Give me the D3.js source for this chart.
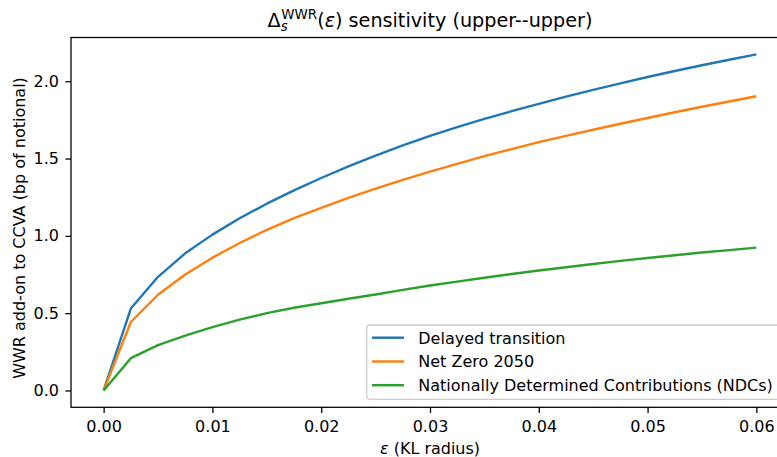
<!DOCTYPE html>
<html>
<head>
<meta charset="utf-8">
<script src="https://cdn.jsdelivr.net/npm/d3@7"></script>
<style>
  body { margin: 0; background: #fff; }
  svg { display: block; font-family: "DejaVu Sans", sans-serif; }
</style>
</head>
<body>
<div id="chart"></div>
<script>
// KL radius grid
var epsValues = [0, 0.0025, 0.005, 0.0075, 0.01, 0.0125, 0.015, 0.0175, 0.02, 0.0225, 0.025, 0.0275, 0.03,
                 0.0325, 0.035, 0.0375, 0.04, 0.0425, 0.045, 0.0475, 0.05, 0.0525, 0.055, 0.0575, 0.06];

var seriesNames = ["Delayed transition", "Net Zero 2050", "Nationally Determined Contributions (NDCs)"];

var delayedTransition = [0, 0.530, 0.735, 0.887, 1.008, 1.114, 1.208, 1.294, 1.374, 1.449, 1.519, 1.585, 1.647,
                         1.703, 1.756, 1.806, 1.854, 1.900, 1.944, 1.986, 2.027, 2.066, 2.103, 2.139, 2.174];
var netZero2050 = [0, 0.443, 0.619, 0.750, 0.859, 0.954, 1.039, 1.115, 1.181, 1.245, 1.305, 1.362, 1.415,
                   1.466, 1.515, 1.561, 1.606, 1.647, 1.686, 1.725, 1.762, 1.799, 1.835, 1.869, 1.903];
var ndcs = [0, 0.209, 0.293, 0.355, 0.410, 0.458, 0.500, 0.535, 0.564, 0.593, 0.621, 0.651, 0.679,
            0.704, 0.729, 0.753, 0.776, 0.797, 0.818, 0.838, 0.857, 0.875, 0.892, 0.908, 0.924];

var xTicks = [0, 0.01, 0.02, 0.03, 0.04, 0.05, 0.06];
var yTicks = [0, 0.5, 1.0, 1.5, 2.0];

var colors = ["#1f77b4", "#ff7f0e", "#2ca02c"];

var width = 777, height = 457;
var box = { left: 71, top: 37.5, right: 789, bottom: 407.3 };
var fontSize = 16, titleSize = 19.2;

var svg = d3.select("#chart").append("svg")
    .attr("width", width)
    .attr("height", height);

var series = [delayedTransition, netZero2050, ndcs].map(function(vals, i) {
    return { name: seriesNames[i], color: colors[i], values: vals };
});

// matplotlib-like 5% margins
var xExt = d3.extent(epsValues), yExt = d3.extent(delayedTransition.concat(netZero2050, ndcs));
var xPad = (xExt[1] - xExt[0]) * 0.05, yPad = (yExt[1] - yExt[0]) * 0.05;

var x = d3.scaleLinear().domain([xExt[0] - xPad, xExt[1] + xPad]).range([box.left, box.right]);
var y = d3.scaleLinear().domain([yExt[0] - yPad, yExt[1] + yPad]).range([box.bottom, box.top]);

// axes
var xAxis = svg.append("g")
    .attr("transform", "translate(0," + box.bottom + ")")
    .call(d3.axisBottom(x).tickValues(xTicks).tickFormat(d3.format(".2f"))
        .tickSize(5.6).tickPadding(8).tickSizeOuter(0));
var yAxis = svg.append("g")
    .attr("transform", "translate(" + box.left + ",0)")
    .call(d3.axisLeft(y).tickValues(yTicks).tickFormat(d3.format(".1f"))
        .tickSize(5.6).tickPadding(6.4).tickSizeOuter(0));

[xAxis, yAxis].forEach(function(g) {
    g.select(".domain").remove();
    g.selectAll(".tick line").attr("stroke", "#000").attr("stroke-width", 1.28);
    g.selectAll(".tick text").attr("fill", "#000")
        .style("font-size", fontSize + "px")
        .style("font-family", "DejaVu Sans, sans-serif");
});

// lines
var line = d3.line()
    .x(function(d, i) { return x(epsValues[i]); })
    .y(function(d) { return y(d); });

svg.append("g").selectAll("path")
    .data(series)
    .enter().append("path")
    .attr("d", function(s) { return line(s.values); })
    .attr("fill", "none")
    .attr("stroke", function(s) { return s.color; })
    .attr("stroke-width", 2.4)
    .attr("stroke-linejoin", "round")
    .attr("stroke-linecap", "butt");

// spines
svg.append("rect")
    .attr("x", box.left).attr("y", box.top)
    .attr("width", box.right - box.left).attr("height", box.bottom - box.top)
    .attr("fill", "none").attr("stroke", "#000").attr("stroke-width", 1.28);

// legend (lower right)
var legend = svg.append("g");
legend.append("rect")
    .attr("x", 366.7).attr("y", 325)
    .attr("width", 781 - 366.7).attr("height", 399.3 - 325)
    .attr("rx", 3.2).attr("ry", 3.2)
    .attr("fill", "#fff").attr("fill-opacity", 0.8)
    .attr("stroke", "#cccccc").attr("stroke-width", 1.28);

var rowY = [337.7, 361.5, 385.2];
var rows = legend.selectAll("g.row")
    .data(series)
    .enter().append("g").attr("class", "row");
rows.append("line")
    .attr("x1", 372).attr("x2", 404)
    .attr("y1", function(d, i) { return rowY[i]; })
    .attr("y2", function(d, i) { return rowY[i]; })
    .attr("stroke", function(d) { return d.color; })
    .attr("stroke-width", 2.4);
rows.append("text")
    .attr("x", 418.3)
    .attr("y", function(d, i) { return rowY[i] + 5.8; })
    .style("font-size", fontSize + "px")
    .text(function(d) { return d.name; });

// axis labels
var xl = svg.append("text")
    .attr("x", (box.left + box.right) / 2).attr("y", 454)
    .attr("text-anchor", "middle")
    .style("font-size", fontSize + "px");
xl.append("tspan").style("font-style", "italic").text("ε");
xl.append("tspan").text(" (KL radius)");

svg.append("text")
    .attr("transform", "translate(25,228) rotate(-90)")
    .attr("text-anchor", "middle")
    .style("font-size", fontSize + "px")
    .text("WWR add-on to CCVA (bp of notional)");

// title: Δ_s^WWR(ε) sensitivity (upper--upper)
var small = titleSize * 0.7;
var title = svg.append("text")
    .attr("x", 0).attr("y", 26.5)
    .style("font-size", titleSize + "px");
title.append("tspan").text("Δ");
var sub = title.append("tspan").attr("dy", 4).style("font-size", small + "px")
    .style("font-style", "italic").text("s");
var subW = sub.node().getComputedTextLength();
var sup = title.append("tspan").attr("dx", -subW + 0.5).attr("dy", -12).style("font-size", small + "px").text("WWR");
title.append("tspan").attr("dy", 8).text("(");
title.append("tspan").style("font-style", "italic").text("ε");
title.append("tspan").text(") sensitivity (upper--upper)");
var tb = title.node().getBBox();
title.attr("x", (box.left + box.right) / 2 - tb.width / 2);
</script>
</body>
</html>
